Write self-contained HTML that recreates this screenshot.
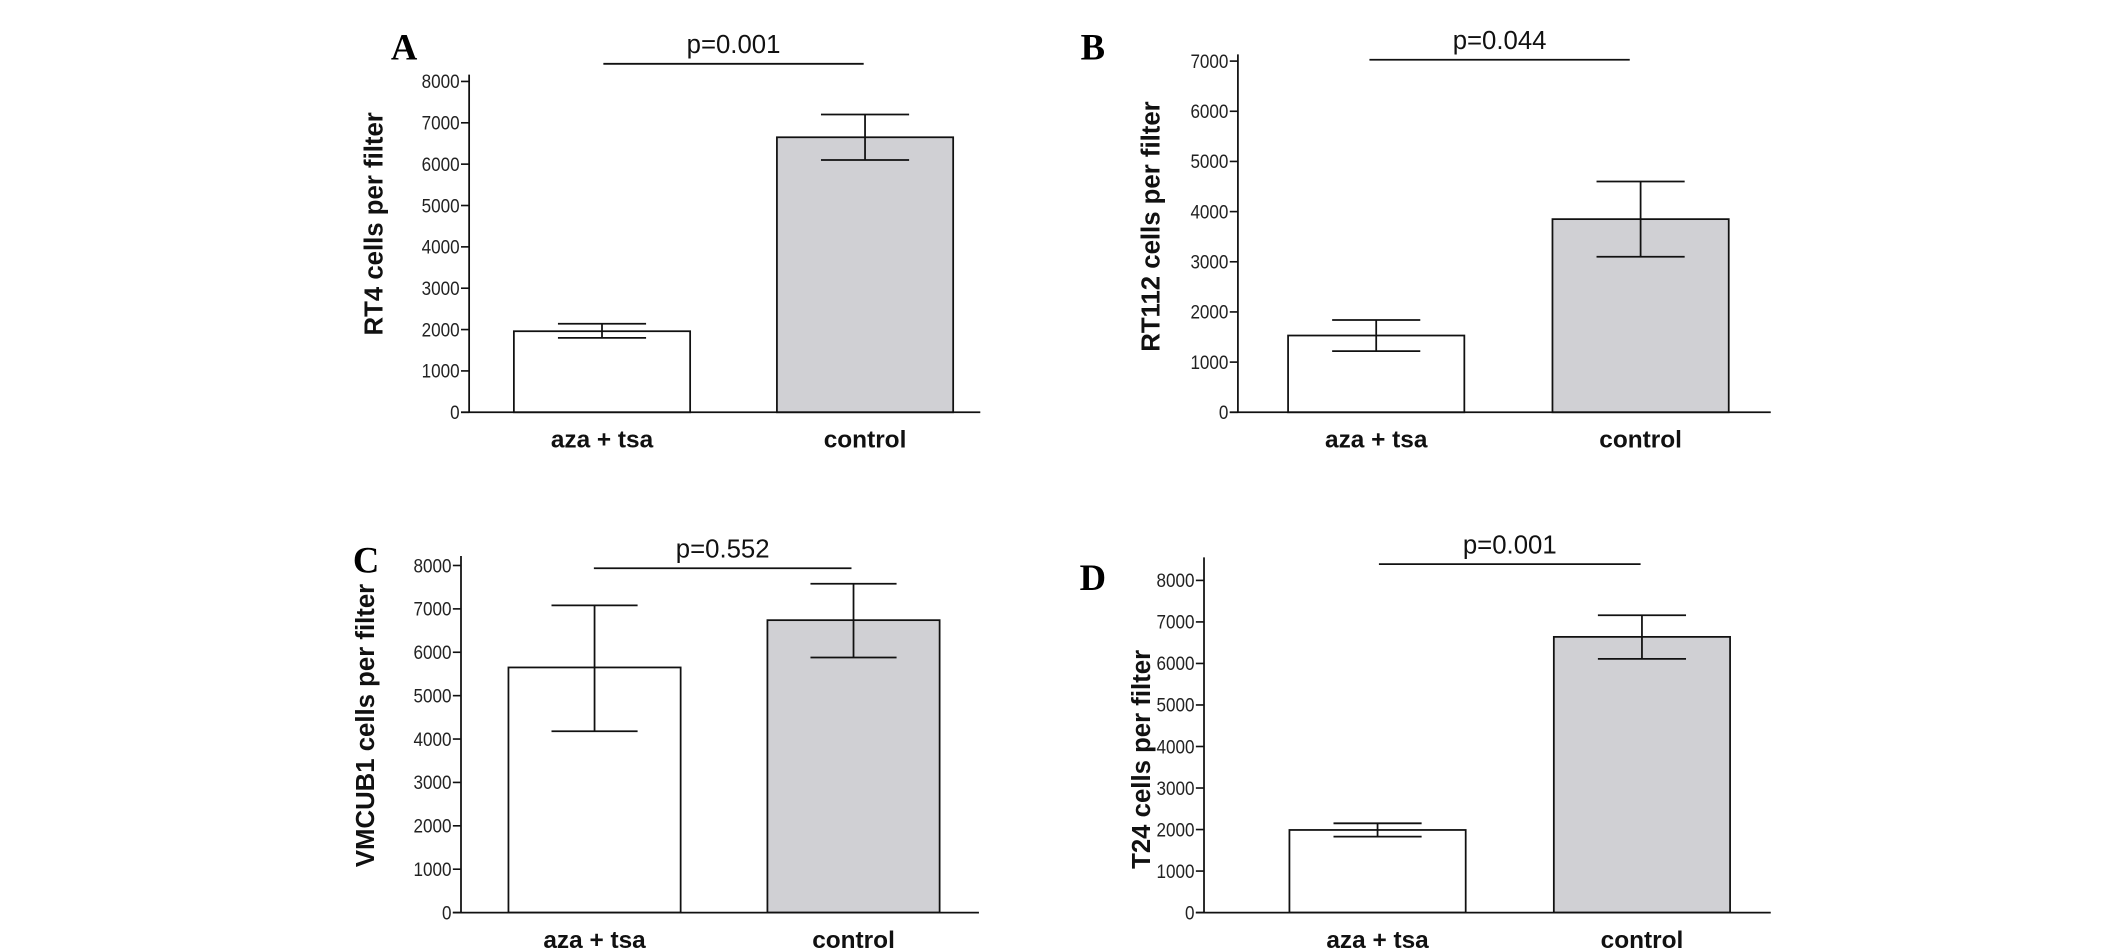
<!DOCTYPE html>
<html><head><meta charset="utf-8"><style>
html,body{margin:0;padding:0;background:#fff;}
svg{display:block;}
.tick{font-family:"Liberation Sans Narrow","Liberation Sans",sans-serif;font-size:14px;fill:#222;}
.cat{font-family:"Liberation Sans",sans-serif;font-size:18px;font-weight:bold;fill:#111;}
.ttl{font-family:"Liberation Sans",sans-serif;font-size:19px;font-weight:bold;fill:#111;}
.pv{font-family:"Liberation Sans Narrow","Liberation Sans",sans-serif;font-size:19px;fill:#111;}
.let{font-family:"Liberation Serif",serif;font-size:27px;font-weight:bold;fill:#000;}
</style></head><body>
<svg id="fig" width="2126" height="952" viewBox="0 0 1568 702" xmlns="http://www.w3.org/2000/svg"></svg>
<script>
const categories = ["aza + tsa", "control"];
const valuesA = [1960, 6650]; const errLoA = [1800, 6100]; const errHiA = [2140, 7200];
const valuesB = [1530, 3850]; const errLoB = [1220, 3100]; const errHiB = [1840, 4600];
const valuesC = [5650, 6740]; const errLoC = [4180, 5880]; const errHiC = [7080, 7580];
const valuesD = [1990, 6640]; const errLoD = [1830, 6110]; const errHiD = [2150, 7160];
const ticks8000 = [0,1000,2000,3000,4000,5000,6000,7000,8000];
const ticks7000 = [0,1000,2000,3000,4000,5000,6000,7000];
const pValues = ["p=0.001", "p=0.044", "p=0.552", "p=0.001"];
const titles = ["RT4 cells per filter", "RT112 cells per filter", "VMCUB1 cells per filter", "T24 cells per filter"];
const letters = ["A","B","C","D"];

const NS="http://www.w3.org/2000/svg";
const svg=document.getElementById('fig');
function mk(tag,attrs,parent,text){const e=document.createElementNS(NS,tag);for(const k in attrs)e.setAttribute(k,attrs[k]);if(text!==undefined)e.textContent=text;(parent||svg).appendChild(e);return e;}

const panels=[
 {id:'a',vals:valuesA,lo:errLoA,hi:errHiA,ticks:ticks8000,max:8000,ax:346,top:55,y0:304,ymax:60,xEnd:723,bars:[[379,509],[573,703]],pl:[445,637,47],letter:[298,44],titleX:282,titleY:165},
 {id:'b',vals:valuesB,lo:errLoB,hi:errHiB,ticks:ticks7000,max:7000,ax:913,top:40,y0:304,ymax:45,xEnd:1306,bars:[[950,1080],[1145,1275]],pl:[1010,1202,44],letter:[806,44],titleX:855,titleY:167},
 {id:'c',vals:valuesC,lo:errLoC,hi:errHiC,ticks:ticks8000,max:8000,ax:340,top:410,y0:673,ymax:417,xEnd:722,bars:[[375,502],[566,693]],pl:[438,628,419],letter:[270,422],titleX:276,titleY:535},
 {id:'d',vals:valuesD,lo:errLoD,hi:errHiD,ticks:ticks8000,max:8000,ax:888,top:411,y0:673,ymax:428,xEnd:1306,bars:[[951,1081],[1146,1276]],pl:[1017,1210,416],letter:[806,435],titleX:848,titleY:560}
];

panels.forEach((p,i)=>{
 const g=mk('g',{});
 
 
 const y=v=>p.y0-(v/p.max)*(p.y0-p.ymax);
 p.vals.forEach((v,j)=>{
  const [x1,x2]=p.bars[j];
  const r=mk('rect',{x:x1,y:y(v),width:x2-x1,height:p.y0-y(v),fill:j?'#d0d0d4':'#fff',stroke:'#111','stroke-width':1.3},g);
  
  
  const cx=(x1+x2)/2, hw=(x2-x1)*0.25;
  const e=mk('path',{d:`M${cx-hw},${y(p.hi[j])}H${cx+hw}M${cx},${y(p.hi[j])}V${y(p.lo[j])}M${cx-hw},${y(p.lo[j])}H${cx+hw}`,stroke:'#111','stroke-width':1.3,fill:'none'},g);
  
  
  const t=mk('text',{x:cx,y:p.y0+26,'text-anchor':'middle',class:'cat'},g,categories[j]);
  
  
 });
 const ya=mk('line',{x1:p.ax,y1:p.top,x2:p.ax,y2:p.y0,stroke:'#111','stroke-width':1.3},g);
 
 
 const xa=mk('line',{x1:p.ax-6,y1:p.y0,x2:p.xEnd,y2:p.y0,stroke:'#111','stroke-width':1.3},g);
 
 
 p.ticks.forEach(tv=>{
  mk('line',{x1:p.ax-6,y1:y(tv),x2:p.ax,y2:y(tv),stroke:'#111','stroke-width':1.2},g);
  const s=String(tv);
  const t=mk('text',{x:p.ax-7,y:y(tv)+5,'text-anchor':'end',class:'tick',textLength:s.length*7,lengthAdjust:'spacingAndGlyphs'},g,s);
  
  
 });
 const cy=p.titleY;
 const tt=mk('text',{x:p.titleX,y:cy,'text-anchor':'middle',class:'ttl',transform:`rotate(-90 ${p.titleX} ${cy})`},g,titles[i]);
 
 
 const sl=mk('line',{x1:p.pl[0],y1:p.pl[2],x2:p.pl[1],y2:p.pl[2],stroke:'#111','stroke-width':1.3},g);
 
 
 const pt=mk('text',{x:(p.pl[0]+p.pl[1])/2,y:p.pl[2]-8,'text-anchor':'middle',class:'pv'},g,pValues[i]);
 
 
 const lt=mk('text',{x:p.letter[0],y:p.letter[1],'text-anchor':'middle',class:'let'},g,letters[i]);
 
 
});
</script>
</body></html>
